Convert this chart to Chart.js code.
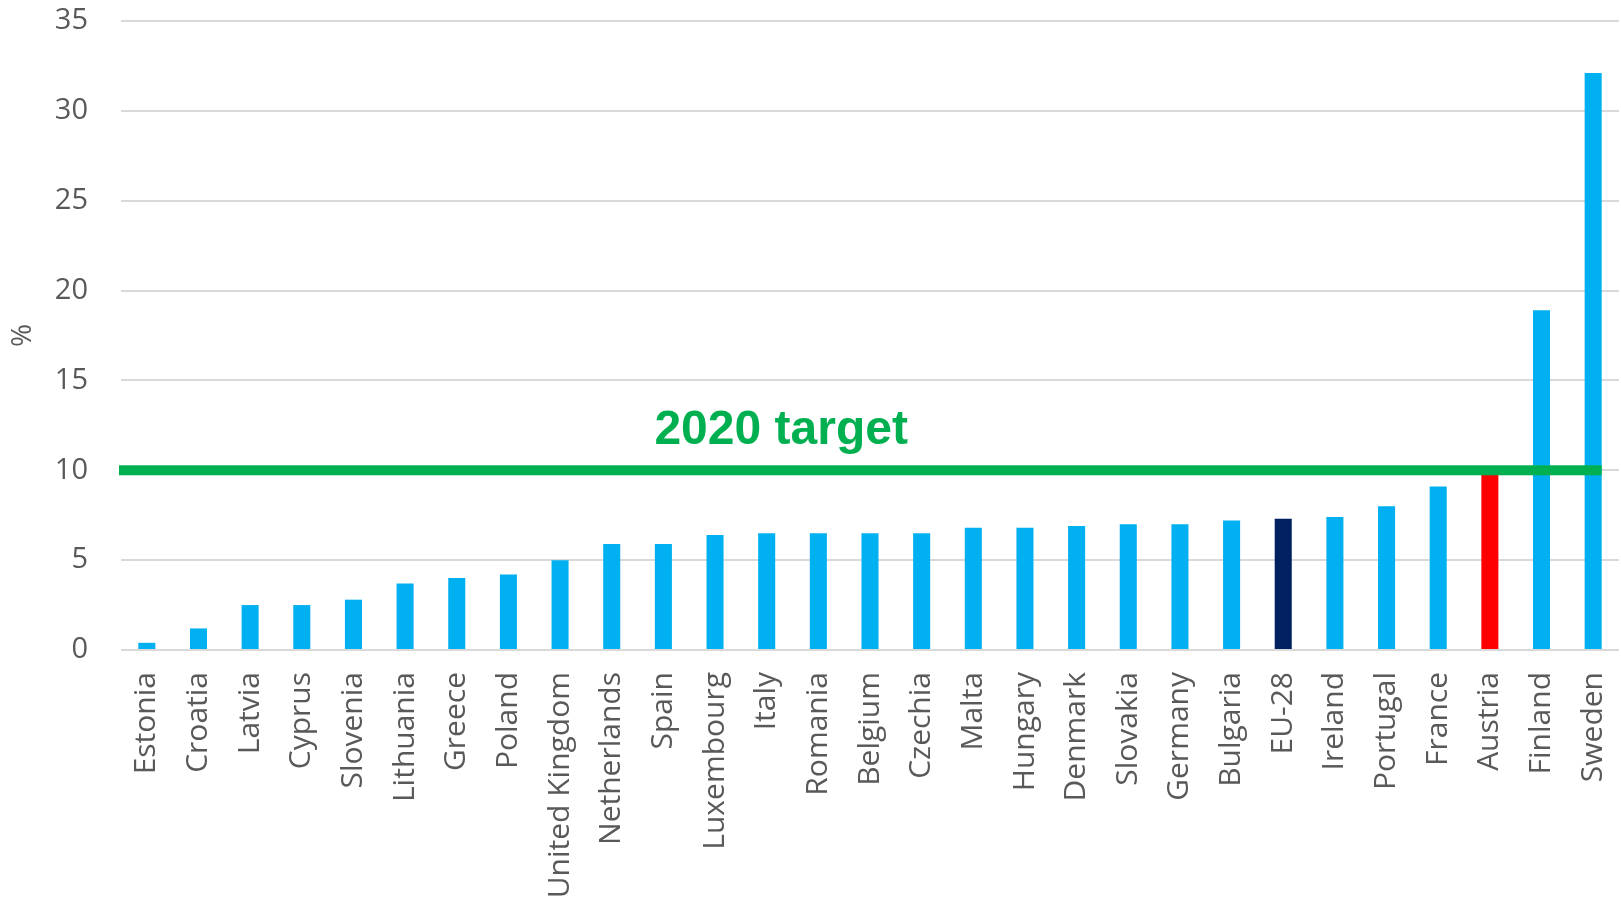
<!DOCTYPE html>
<html>
<head>
<meta charset="utf-8">
<script src="https://cdn.jsdelivr.net/npm/chart.js@4"></script>
<style>
  body { margin: 0; background: #ffffff; }
  #wrap { width: 1621px; height: 901px; position: relative; }
</style>
</head>
<body>
<div id="wrap"><canvas id="shareChart"></canvas></div>
<script>
const countries = ['Estonia', 'Croatia', 'Latvia', 'Cyprus', 'Slovenia', 'Lithuania', 'Greece', 'Poland',
    'United Kingdom', 'Netherlands', 'Spain', 'Luxembourg', 'Italy', 'Romania', 'Belgium', 'Czechia',
    'Malta', 'Hungary', 'Denmark', 'Slovakia', 'Germany', 'Bulgaria', 'EU-28', 'Ireland', 'Portugal',
    'France', 'Austria', 'Finland', 'Sweden'];
const shares = [0.4, 1.2, 2.5, 2.5, 2.8, 3.7, 4.0, 4.2,
    5.0, 5.9, 5.9, 6.4, 6.5, 6.5, 6.5, 6.5,
    6.8, 6.8, 6.9, 7.0, 7.0, 7.2, 7.3, 7.4, 8.0,
    9.1, 9.8, 18.9, 32.1];
const yTicks = [0, 5, 10, 15, 20, 25, 30, 35];
const targetValue = 10;
const targetLabel = '2020 target';

const barColors = countries.map(function (c) {
    if (c === 'EU-28') return '#002060';
    if (c === 'Austria') return '#FF0000';
    return '#00B0F0';
});

// green target line + label drawn over the bars
const targetPlugin = {
    id: 'targetLine',
    afterDatasetsDraw: function (chart) {
        const ctx = chart.ctx;
        const x = chart.scales.x;
        const y = chart.scales.y;
        const bars = chart.getDatasetMeta(0).data;
        const last = bars[bars.length - 1];
        const yPos = y.getPixelForValue(targetValue);
        ctx.save();
        ctx.fillStyle = '#00B050';
        ctx.fillRect(chart.chartArea.left - 2, yPos - 5, last.x + last.width / 2 - chart.chartArea.left + 2, 10);
        ctx.font = 'bold 48px "Liberation Sans", Arial, sans-serif';
        ctx.textAlign = 'center';
        ctx.textBaseline = 'alphabetic';
        const step = x.getPixelForValue(1) - x.getPixelForValue(0);
        ctx.fillText(targetLabel, x.getPixelForValue(12) + 0.28 * step, yPos - 26);
        ctx.restore();
    }
};

const ctx = document.getElementById('shareChart').getContext('2d');
new Chart(ctx, {
    type: 'bar',
    data: {
        labels: countries,
        datasets: [{
            label: 'Share',
            data: shares,
            backgroundColor: barColors,
            barPercentage: 0.33,
            categoryPercentage: 1.0
        }]
    },
    options: {
        responsive: true,
        maintainAspectRatio: false,
        animation: false,
        layout: { padding: { top: 21, right: 2, left: 0, bottom: 0 } },
        plugins: {
            legend: { display: false },
            tooltip: { enabled: false }
        },
        scales: {
            x: {
                grid: { display: false, drawTicks: false },
                border: { display: false },
                ticks: {
                    color: '#595959',
                    font: { family: '"Open Sans"', size: 30 },
                    minRotation: 90,
                    maxRotation: 90,
                    autoSkip: false,
                    padding: 22
                },
                afterFit: function (scale) {
                    scale.height = 251;
                    scale.paddingLeft = 0;
                    scale.paddingRight = 0;
                }
            },
            y: {
                min: 0,
                max: 35,
                afterBuildTicks: function (scale) {
                    scale.ticks = yTicks.map(function (v) { return { value: v }; });
                },
                grid: { color: '#D9D9D9', lineWidth: 2, drawTicks: false },
                border: { display: false },
                ticks: {
                    color: '#595959',
                    font: { family: '"Open Sans"', size: 29 },
                    padding: 33
                },
                title: {
                    display: true,
                    text: '%',
                    color: '#595959',
                    font: { family: '"Open Sans"', size: 28 },
                    padding: { top: 6, bottom: 0 }
                },
                afterFit: function (scale) {
                    scale.width = 121;
                    scale.paddingTop = 0;
                    scale.paddingBottom = 0;
                }
            }
        }
    },
    plugins: [targetPlugin]
});
</script>
</body>
</html>
